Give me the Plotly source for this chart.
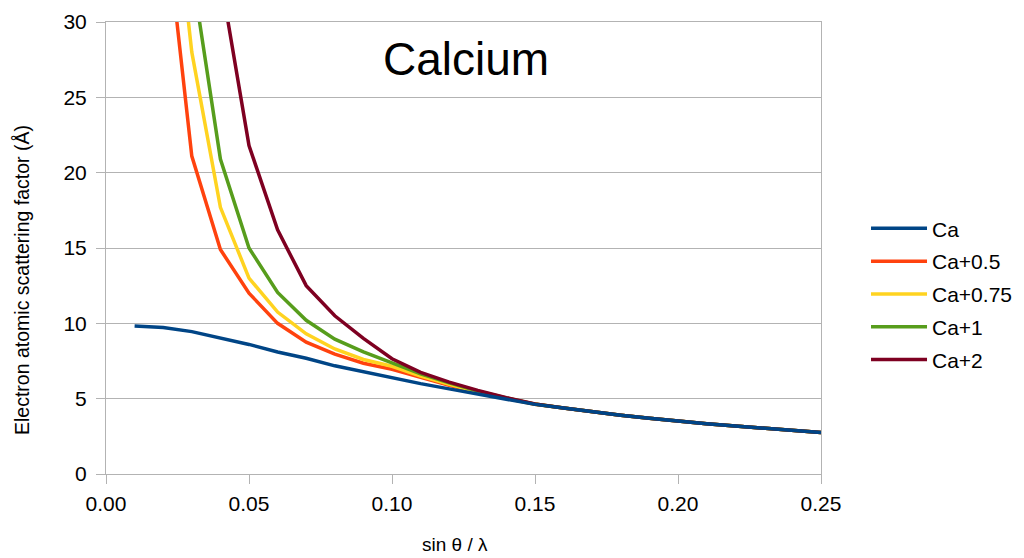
import plotly.graph_objects as go

s = [0.01, 0.02, 0.03, 0.04, 0.05, 0.06, 0.07, 0.08, 0.09, 0.10, 0.11, 0.12, 0.13,
     0.14, 0.15, 0.16, 0.17, 0.18, 0.19, 0.20, 0.21, 0.22, 0.23, 0.24, 0.25]

ca = [9.82, 9.72, 9.45, 9.05, 8.6, 8.1, 7.68, 7.18, 6.78, 6.4, 6.0, 5.65, 5.3,
      4.95, 4.62, 4.38, 4.13, 3.9, 3.7, 3.5, 3.34, 3.19, 3.05, 2.9, 2.75]
ca_05 = [None, 38.2, 21.1, 14.9, 12.0, 10.0, 8.75, 7.95, 7.35, 6.95, 6.4, 5.88, 5.42,
         5.0, 4.63, 4.38, 4.13, 3.9, 3.7, 3.5, 3.34, 3.19, 3.05, 2.9, 2.75]
ca_075 = [None, 45.0, 28.0, 17.7, 13.0, 10.75, 9.3, 8.3, 7.6, 7.15, 6.5, 5.95, 5.45,
          5.02, 4.63, 4.38, 4.13, 3.9, 3.7, 3.5, 3.34, 3.19, 3.05, 2.9, 2.75]
ca_1 = [None, None, 33.4, 20.9, 15.0, 12.05, 10.2, 8.95, 8.1, 7.4, 6.65, 6.05, 5.5,
        5.05, 4.64, 4.38, 4.13, 3.9, 3.7, 3.5, 3.34, 3.19, 3.05, 2.9, 2.75]
ca_2 = [None, None, None, 33.0, 21.8, 16.2, 12.5, 10.5, 9.0, 7.65, 6.75, 6.1, 5.55,
        5.07, 4.65, 4.38, 4.13, 3.9, 3.7, 3.5, 3.34, 3.19, 3.05, 2.9, 2.75]

names = ["Ca", "Ca+0.5", "Ca+0.75", "Ca+1", "Ca+2"]
series = [ca, ca_05, ca_075, ca_1, ca_2]
colors = ["#004586", "#ff420e", "#ffd320", "#579d1c", "#7e0021"]

x_ticks = [0.00, 0.05, 0.10, 0.15, 0.20, 0.25]
y_ticks = [0, 5, 10, 15, 20, 25, 30]

fig = go.Figure()
# draw ions first, neutral on top, but keep legend order
order = [1, 2, 3, 4, 0]
for i in order:
    fig.add_trace(go.Scatter(
        x=s, y=series[i], mode="lines", name=names[i],
        line=dict(color=colors[i], width=3.5),
        legendrank=i + 1, legendgroup=names[i],
    ))

font = "Liberation Sans, Arial, sans-serif"
# page body has an 8px margin, so the figure is 8px smaller and offsets are shifted
fig.update_layout(
    width=1016, height=550,
    margin=dict(l=98, r=203, t=14, b=84, autoexpand=False),
    paper_bgcolor="white", plot_bgcolor="white",
    font=dict(family=font, color="#000000"),
    showlegend=True,
    legend=dict(xref="container", x=0.8445, y=0.588, xanchor="left", yanchor="top",
                font=dict(size=21, family=font), tracegroupgap=2.5,
                itemwidth=56, bgcolor="rgba(0,0,0,0)"),
    annotations=[
        dict(text="Calcium", x=0.504, y=0.9186, xref="paper", yref="paper",
             showarrow=False, font=dict(size=46, family=font),
             xanchor="center", yanchor="middle"),
        dict(text="sin θ / λ", x=(455 - 106) / 714, y=-(545 - 474) / 452.3,
             xref="paper", yref="paper", showarrow=False,
             font=dict(size=19, family=font), xanchor="center", yanchor="middle"),
        dict(text="Electron atomic scattering factor (Å)", x=-(106 - 22) / 714,
             y=(474 - 280) / 452.3, xref="paper", yref="paper", showarrow=False,
             textangle=-90, font=dict(size=19.5, family=font),
             xanchor="center", yanchor="middle"),
    ],
)
fig.update_xaxes(range=[0, 0.25], tickvals=x_ticks, ticktext=[f"{v:.2f}" for v in x_ticks],
                 showgrid=False, showline=True, linecolor="#b3b3b3", linewidth=1,
                 mirror=True, ticks="outside", ticklen=9, tickcolor="#b3b3b3",
                 tickfont=dict(size=21), zeroline=False, automargin=False,
                 ticklabelstandoff=2)
fig.update_yaxes(range=[0, 30], tickvals=y_ticks, showgrid=True, gridcolor="#b3b3b3",
                 showline=True, linecolor="#b3b3b3", linewidth=1, mirror=True,
                 ticks="outside", ticklen=9, tickcolor="#b3b3b3",
                 tickfont=dict(size=21), zeroline=False, automargin=False,
                 ticklabelstandoff=5)
fig.write_html("out.html")
